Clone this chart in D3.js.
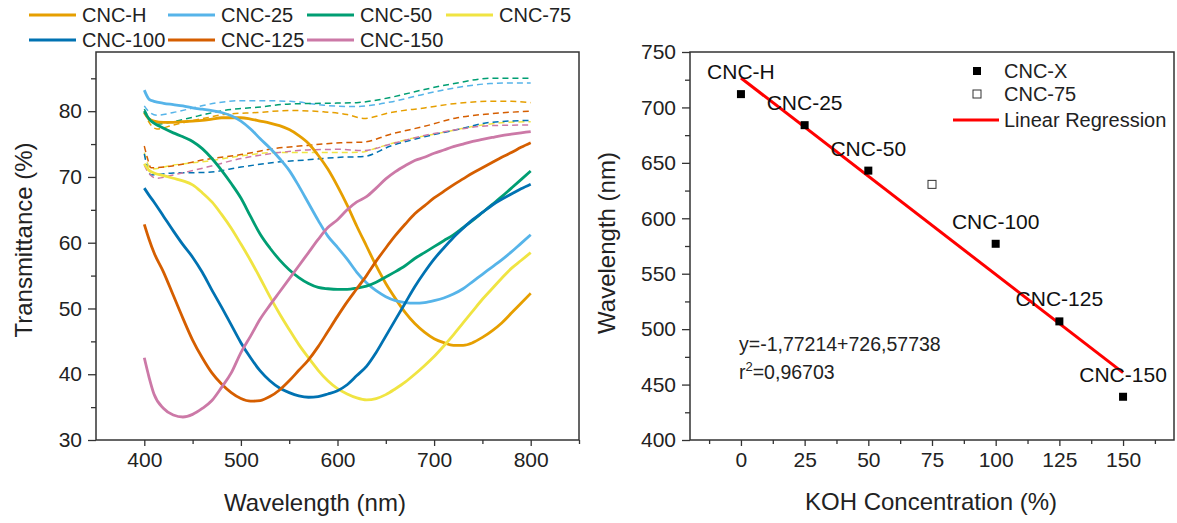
<!DOCTYPE html>
<html><head><meta charset="utf-8">
<script src="https://cdn.jsdelivr.net/npm/d3@7"></script>
<style>
body{margin:0;background:#fff}
svg{display:block;font-family:"Liberation Sans",Arial,sans-serif}
</style>
</head><body>
<svg id="c" width="1177" height="523"></svg>
<script>
// ---------- Left chart data ----------
const seriesNames = ["CNC-H","CNC-25","CNC-50","CNC-75","CNC-100","CNC-125","CNC-150"];
const seriesColors = ["#E69F00","#56B4E9","#009E73","#F0E442","#0072B2","#D55E00","#CC79A7"];
const wl = [400,405,410,420,430,440,450,460,470,480,490,500,510,520,530,540,550,560,570,580,590,600,610,620,630,640,650,660,670,680,690,700,710,720,730,740,750,760,770,780,790,800];
const solidH   = [79.8,78.8,78.5,78.3,78.3,78.4,78.5,78.6,78.8,79,79,79,78.8,78.5,78.2,77.8,77.2,76.3,75.1,73.3,71.2,68.6,65.7,62.5,59.5,56.5,53.8,51.5,49.4,47.7,46.4,45.4,44.8,44.4,44.4,44.8,45.6,46.6,47.8,49.3,50.8,52.3];
const solid25  = [83.2,81.8,81.5,81.2,81,80.8,80.5,80.3,80.1,79.8,79.3,78.5,77.3,75.8,74.4,72.8,71,68.6,66,63.4,61,59.3,57.5,55.5,53.9,52.7,51.8,51.2,50.9,50.8,50.9,51.2,51.6,52.2,53,54.1,55.2,56.3,57.4,58.6,59.9,61.2];
const solid50  = [80,78.8,78.2,77.4,76.7,76.1,75.4,74.3,72.8,71,69,66.8,64,61.3,59.2,57.4,55.9,54.7,53.8,53.2,53,52.9,52.9,53.1,53.4,54,54.8,55.6,56.5,57.6,58.5,59.4,60.3,61.2,62.3,63.4,64.6,65.8,67,68.3,69.6,70.9];
const solid75  = [72,71,70.6,70.2,69.8,69.4,68.8,67.6,66.2,64.3,62.2,59.8,57.3,54.6,51.8,49.2,46.8,44.5,42.5,40.6,39,37.8,37,36.4,36.1,36.3,36.9,37.8,38.8,40,41.3,42.7,44.3,46,47.8,49.6,51.4,53,54.6,56.1,57.3,58.5];
const solid100 = [68.3,67.2,66.2,64,61.8,59.7,57.8,55.5,52.8,50.2,47.5,44.8,42.5,40.5,39,37.9,37.2,36.7,36.5,36.6,37,37.5,38.4,39.8,41.2,43.3,45.8,48.3,50.8,53.3,55.5,57.5,59.2,60.8,62.2,63.5,64.6,65.7,66.6,67.4,68.2,68.9];
const solid125 = [62.8,60.5,58.5,55.5,52,48.5,45.2,42.5,40.2,38.5,37.2,36.3,35.9,36,36.6,37.6,39,40.6,42.2,44.2,46.5,48.8,51,53,55,57.2,59.2,61.1,62.8,64.4,65.6,66.8,67.8,68.8,69.7,70.6,71.4,72.2,73,73.7,74.5,75.2];
const solid150 = [42.5,39.5,37,34.8,33.8,33.5,33.9,34.8,36,38,40.2,43.3,45.8,48.4,50.5,52.5,54.5,56.5,58.5,60.5,62.3,63.5,65,66.2,67,68.3,69.7,70.8,71.7,72.5,73,73.6,74.1,74.6,75,75.4,75.7,76,76.3,76.5,76.7,76.9];
const solidSeries = [solidH,solid25,solid50,solid75,solid100,solid125,solid150];

const dashH   = [[400,80],[405,78.3],[413,77.3],[430,77.9],[448,78.5],[465,79],[482,79.5],[517,79.8],[551,80.1],[586,79.9],[610,79.5],[627,78.9],[655,79.8],[690,80.5],[724,81.2],[758,81.5],[780,81.5],[800,81.3]];
const dash25  = [[400,80.8],[403,80.2],[413,79.4],[430,79.8],[448,80.4],[465,81],[482,81.4],[500,81.6],[517,81.6],[551,81.5],[586,80.9],[620,80.7],[635,80.9],[655,81.4],[690,82.6],[724,83.6],[758,84.2],[780,84.3],[800,84.3]];
const dash50  = [[400,80.3],[405,79],[413,78],[430,78.4],[448,79],[465,79.6],[482,80.1],[500,80.4],[517,80.6],[551,81.1],[586,81.2],[620,81.3],[637,81.6],[655,82.1],[690,83.3],[724,84.3],[758,85],[800,85]];
const dash75  = [[400,73.7],[403,72.2],[407,71.2],[430,71.8],[465,72.4],[500,73.2],[534,73.7],[569,73.7],[603,73.7],[627,73.8],[638,74.3],[672,75.7],[707,76.7],[741,77.7],[776,78.3],[800,78.4]];
const dash100 = [[400,73.5],[403,71.5],[407,70.3],[430,70.6],[465,70.7],[500,71.5],[534,72.2],[569,72.6],[603,73],[627,73.1],[655,74.7],[690,76.1],[724,77.2],[758,78.3],[800,78.6]];
const dash125 = [[400,74.7],[403,73],[407,71.4],[430,71.7],[465,72.7],[500,73.4],[534,74.3],[569,74.8],[603,75.2],[627,75.3],[655,76.5],[690,77.7],[724,79],[758,79.6],[800,80]];
const dash150 = [[400,71.8],[405,70.5],[413,69.8],[430,70.3],[465,71.5],[500,72.8],[534,73.6],[569,74.1],[603,74.2],[627,74],[655,75],[690,76.3],[724,77.2],[758,77.8],[800,77.9]];
const dashSeries = [dashH,dash25,dash50,dash75,dash100,dash125,dash150];

const leftXTicks = [400,500,600,700,800];
const leftXMinor = [450,550,650,750,850];
const leftYTicks = [30,40,50,60,70,80];
const leftYMinor = [35,45,55,65,75,85];

// ---------- Right chart data ----------
const kohConc   = [0,25,50,100,125,150];
const peakWl    = [712,684,643,577,507,439];
const peakNames = ["CNC-H","CNC-25","CNC-50","CNC-100","CNC-125","CNC-150"];
const koh75 = [75];
const peak75 = [630.6];
const regSlope = -1.77214, regIntercept = 726.57738;
const regRange = [0,150];
const rightXTicks = [0,25,50,75,100,125,150];
const rightXMinor = [-12.5,12.5,37.5,62.5,87.5,112.5,137.5,162.5];
const rightYTicks = [400,450,500,550,600,650,700,750];
const rightYMinor = [425,475,525,575,625,675,725];

const svg = d3.select("#c");
const axisColor = "#333";
const font = "Liberation Sans, Arial, sans-serif";

// ---------- Left chart ----------
const L = {x0:96, x1:579, y0:52, y1:440};
const xL = d3.scaleLinear().domain([350,850]).range([L.x0,L.x1]);
const yL = d3.scaleLinear().domain([30,89]).range([L.y1,L.y0]);
const gL = svg.append("g");

const lineSolid = d3.line().x((d,i)=>xL(wl[i])).y(d=>yL(d)).curve(d3.curveMonotoneX);
const lineDash = d3.line().x(d=>xL(d[0])).y(d=>yL(d[1])).curve(d3.curveMonotoneX);

dashSeries.forEach((s,i)=>{
  gL.append("path").attr("d",lineDash(s)).attr("fill","none")
    .attr("stroke",seriesColors[i]).attr("stroke-width",1.5).attr("stroke-dasharray","6,4");
});
solidSeries.forEach((s,i)=>{
  gL.append("path").attr("d",lineSolid(s)).attr("fill","none")
    .attr("stroke",seriesColors[i]).attr("stroke-width",2.8).attr("stroke-linejoin","round");
});

// frame
gL.append("rect").attr("x",L.x0).attr("y",L.y0).attr("width",L.x1-L.x0).attr("height",L.y1-L.y0)
  .attr("fill","none").attr("stroke",axisColor).attr("stroke-width",1.5);

// axes
const axLX = gL.append("g").attr("transform",`translate(0,${L.y1})`)
  .call(d3.axisBottom(xL).tickValues(leftXTicks).tickSize(6).tickPadding(6).tickFormat(d3.format("d")));
gL.append("g").attr("transform",`translate(0,${L.y1})`)
  .call(d3.axisBottom(xL).tickValues(leftXMinor).tickSize(4).tickFormat(""));
const axLY = gL.append("g").attr("transform",`translate(${L.x0},0)`)
  .call(d3.axisLeft(yL).tickValues(leftYTicks).tickSize(8).tickPadding(6).tickFormat(d3.format("d")));
gL.append("g").attr("transform",`translate(${L.x0},0)`)
  .call(d3.axisLeft(yL).tickValues(leftYMinor).tickSize(5).tickFormat(""));
gL.selectAll(".domain").remove();

gL.append("text").attr("x",315).attr("y",511).attr("text-anchor","middle")
  .attr("font-size",24).attr("fill","#222").text("Wavelength (nm)");
gL.append("text").attr("transform","translate(32,240) rotate(-90)").attr("text-anchor","middle")
  .attr("font-size",24).attr("fill","#222").text("Transmittance (%)");

// legend left
const legCols = [29,168,307,446];
const legRows = [15,40];
seriesNames.forEach((n,i)=>{
  const r = i<4 ? 0 : 1, c = i<4 ? i : i-4;
  const lx = legCols[c], ly = legRows[r];
  gL.append("line").attr("x1",lx).attr("x2",lx+47).attr("y1",ly).attr("y2",ly)
    .attr("stroke",seriesColors[i]).attr("stroke-width",3);
  gL.append("text").attr("x",lx+53).attr("y",ly+7).attr("font-size",20).attr("fill","#222").text(n);
});

// ---------- Right chart ----------
const R = {x0:690, x1:1174, y0:52, y1:440};
const xR = d3.scaleLinear().domain([-20,170]).range([R.x0,R.x1]);
const yR = d3.scaleLinear().domain([400,750]).range([R.y1,R.y0]);
const gR = svg.append("g");

// regression line
gR.append("line")
  .attr("x1",xR(regRange[0])).attr("y1",yR(regSlope*regRange[0]+regIntercept))
  .attr("x2",xR(regRange[1])).attr("y2",yR(regSlope*regRange[1]+regIntercept))
  .attr("stroke","#FF0000").attr("stroke-width",3);

// points
gR.selectAll("rect.pt").data(kohConc).enter().append("rect").attr("class","pt")
  .attr("x",(d)=>xR(d)-4).attr("y",(d,i)=>yR(peakWl[i])-4).attr("width",8).attr("height",8).attr("fill","#000");
gR.selectAll("rect.pt75").data(koh75).enter().append("rect").attr("class","pt75")
  .attr("x",d=>xR(d)-4).attr("y",(d,i)=>yR(peak75[i])-4).attr("width",8).attr("height",8)
  .attr("fill","#fff").attr("stroke","#333").attr("stroke-width",1);

// labels
gR.selectAll("text.lab").data(kohConc).enter().append("text").attr("class","lab")
  .attr("x",d=>xR(d)).attr("y",(d,i)=>yR(peakWl[i])-15).attr("text-anchor","middle")
  .attr("font-size",21).attr("fill","#111").text((d,i)=>peakNames[i]);

// equation
gR.append("text").attr("x",739).attr("y",351).attr("font-size",19.5).attr("fill","#222").text("y=-1,77214+726,57738");
const r2 = gR.append("text").attr("x",739).attr("y",379).attr("font-size",19.5).attr("fill","#222");
r2.append("tspan").text("r");
r2.append("tspan").attr("dy",-8).attr("font-size",13).text("2");
r2.append("tspan").attr("dy",8).text("=0,96703");

// frame
gR.append("rect").attr("x",R.x0).attr("y",R.y0).attr("width",R.x1-R.x0).attr("height",R.y1-R.y0)
  .attr("fill","none").attr("stroke",axisColor).attr("stroke-width",1.5);

gR.append("g").attr("transform",`translate(0,${R.y1})`)
  .call(d3.axisBottom(xR).tickValues(rightXTicks).tickSize(6).tickPadding(6).tickFormat(d3.format("d")));
gR.append("g").attr("transform",`translate(0,${R.y1})`)
  .call(d3.axisBottom(xR).tickValues(rightXMinor).tickSize(4).tickFormat(""));
gR.append("g").attr("transform",`translate(${R.x0},0)`)
  .call(d3.axisLeft(yR).tickValues(rightYTicks).tickSize(8).tickPadding(6).tickFormat(d3.format("d")));
gR.append("g").attr("transform",`translate(${R.x0},0)`)
  .call(d3.axisLeft(yR).tickValues(rightYMinor).tickSize(5).tickFormat(""));
gR.selectAll(".domain").remove();

gR.append("text").attr("x",931).attr("y",510).attr("text-anchor","middle")
  .attr("font-size",24).attr("fill","#222").text("KOH Concentration (%)");
gR.append("text").attr("transform","translate(615,243) rotate(-90)").attr("text-anchor","middle")
  .attr("font-size",24).attr("fill","#222").text("Wavelength (nm)");

// right legend
const legR = gR.append("g");
legR.append("rect").attr("x",973).attr("y",67).attr("width",8).attr("height",8).attr("fill","#000");
legR.append("text").attr("x",1004).attr("y",78).attr("font-size",20).attr("fill","#222").text("CNC-X");
legR.append("rect").attr("x",973).attr("y",90).attr("width",8).attr("height",8).attr("fill","#fff").attr("stroke","#333");
legR.append("text").attr("x",1004).attr("y",101).attr("font-size",20).attr("fill","#222").text("CNC-75");
legR.append("line").attr("x1",953).attr("x2",999).attr("y1",120).attr("y2",120).attr("stroke","#FF0000").attr("stroke-width",3);
legR.append("text").attr("x",1004).attr("y",127).attr("font-size",20).attr("fill","#222").text("Linear Regression");

// style ticks
svg.selectAll(".tick line").attr("stroke",axisColor).attr("stroke-width",1.3);
svg.selectAll(".tick text").attr("font-size",21).attr("fill","#222").attr("font-family",font);
</script>
</body></html>
